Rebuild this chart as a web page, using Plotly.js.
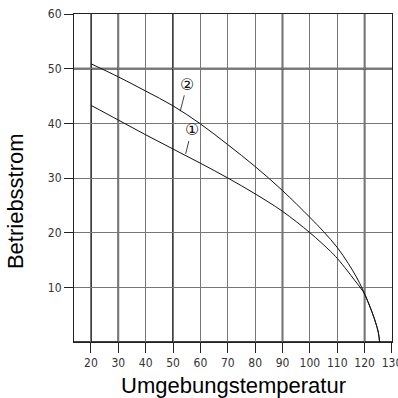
<!DOCTYPE html>
<html><head><meta charset="utf-8">
<script src="https://cdn.plot.ly/plotly-3.0.1.min.js"></script>
<style>html,body{margin:0;padding:0;background:#fff}#c{width:398px;height:398px}
.xtick text,.ytick text{font-stretch:condensed}</style>
</head><body><div id="c"></div>
<script>
// Curve 1 (lower)
const temp1 = [20, 30, 40, 50, 60, 70, 80, 90, 100, 107.5, 110, 113.6, 116.5, 119.5, 122, 124, 125, 125.5];
const strom1 = [43.3, 40.6, 37.9, 35.3, 32.7, 30.0, 27.1, 23.9, 20.0, 16.6, 15.3, 13.1, 11.2, 9.2, 6.4, 3.6, 1.8, 0];
// Curve 2 (upper)
const temp2 = [20, 30, 40, 50, 60, 70, 80, 90, 100, 105, 110, 114, 117, 119.5, 122, 124, 125, 125.5];
const strom2 = [50.9, 48.5, 45.9, 43.2, 39.9, 36.1, 32.1, 27.7, 22.8, 20.2, 17.3, 14.4, 11.9, 9.4, 6.4, 3.6, 1.8, 0];
const xTicks = [20, 30, 40, 50, 60, 70, 80, 90, 100, 110, 120, 130];
const yTicks = [10, 20, 30, 40, 50, 60];
const xStrong = [20, 30, 50, 90, 120];
const yStrong = [0, 50];
const labels = [{t: '\u2461', x: 52.6, y: 42.2, ax: 7, ay: -27}, {t: '\u2460', x: 54.6, y: 34.4, ax: 6, ay: -24}];
const xTitle = 'Umgebungstemperatur';
const yTitle = 'Betriebsstrom';

const shapes = [];
xStrong.forEach(v => shapes.push({type: 'line', xref: 'x', yref: 'paper', x0: v, x1: v, y0: 0, y1: 1, line: {color: '#000', width: 1.6}, layer: 'below'}));
yStrong.forEach(v => shapes.push({type: 'line', xref: 'paper', yref: 'y', x0: 0, x1: 1, y0: v, y1: v, line: {color: '#000', width: 1.6}, layer: 'below'}));

const tickFont = {family: 'DejaVu Sans Condensed, DejaVu Sans, sans-serif', size: 12, color: '#333'};
const titleFont = {family: 'Liberation Sans, Arial, sans-serif', size: 22, color: '#000'};

const traces = [
  {x: temp1, y: strom1, mode: 'lines', line: {color: '#111', width: 1, shape: 'spline', smoothing: 1}, hoverinfo: 'none'},
  {x: temp2, y: strom2, mode: 'lines', line: {color: '#111', width: 1, shape: 'spline', smoothing: 1}, hoverinfo: 'none'}
];

const annotations = labels.map(l => ({
  x: l.x, y: l.y, xref: 'x', yref: 'y', text: l.t,
  font: {family: 'DejaVu Sans, Noto Sans CJK SC, sans-serif', size: 16, color: '#111'},
  showarrow: true, arrowhead: 0, arrowwidth: 0.8, arrowcolor: '#111',
  ax: l.ax, ay: l.ay, standoff: 0, startstandoff: 0, bgcolor: 'rgba(255,255,255,0)'
}));
annotations.push({text: xTitle, xref: 'paper', yref: 'paper', x: 0.5, y: -0.132, xanchor: 'center', yanchor: 'middle', showarrow: false, font: titleFont});
annotations.push({text: yTitle, xref: 'paper', yref: 'paper', x: -0.182, y: 0.43, xanchor: 'center', yanchor: 'middle', textangle: -90, showarrow: false, font: titleFont});

const layout = {
  width: 398, height: 398,
  margin: {l: 74, r: 6, t: 14, b: 56},
  paper_bgcolor: '#fff', plot_bgcolor: '#fff',
  showlegend: false,
  xaxis: {
    range: [13.8, 130.02], tickvals: xTicks, ticktext: xTicks.map(String),
    showgrid: true, gridcolor: '#777', gridwidth: 1,
    showline: true, linecolor: '#222', linewidth: 1, mirror: true,
    ticks: 'outside', ticklen: 10, tickcolor: '#222',
    tickfont: tickFont, zeroline: false, ticklabeloverflow: 'allow'
  },
  yaxis: {
    range: [0, 60], tickvals: yTicks, ticktext: yTicks.map(String),
    showgrid: true, gridcolor: '#777', gridwidth: 1,
    showline: true, linecolor: '#222', linewidth: 1, mirror: true,
    ticks: 'outside', ticklen: 9, tickcolor: '#222',
    tickfont: tickFont, zeroline: false
  },
  shapes: shapes,
  annotations: annotations
};
Plotly.newPlot('c', traces, layout, {staticPlot: true, displayModeBar: false});
</script></body></html>
